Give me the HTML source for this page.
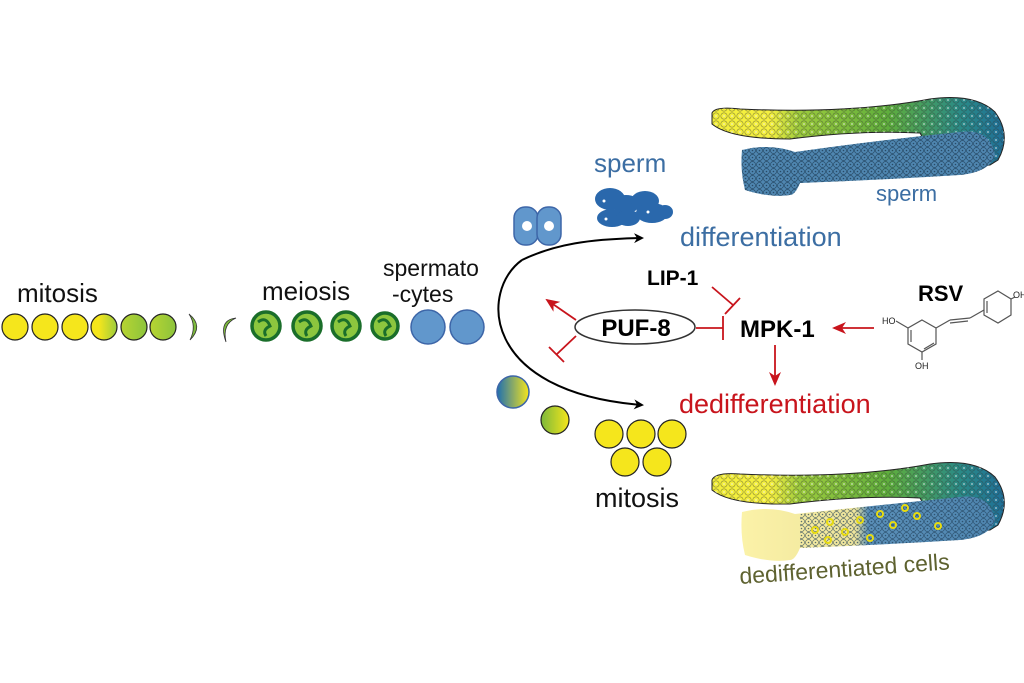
<!DOCTYPE html>
<html><head><meta charset="utf-8"><style>
html,body{margin:0;padding:0;background:#fff}
svg{display:block}
text{font-family:"Liberation Sans","DejaVu Sans",sans-serif}
</style></head><body>
<svg width="1024" height="683" viewBox="0 0 1024 683" xmlns="http://www.w3.org/2000/svg">
<defs>
<linearGradient id="gy1" x1="0" x2="1"><stop offset="0" stop-color="#f5e61c"/><stop offset="1" stop-color="#f5e61c"/></linearGradient>
<linearGradient id="gy2" x1="0" x2="1"><stop offset="0.3" stop-color="#f5e61c"/><stop offset="1" stop-color="#9ccc3c"/></linearGradient>
<linearGradient id="gy3" x1="0" x2="1"><stop offset="0" stop-color="#b8d432"/><stop offset="1" stop-color="#8cc43c"/></linearGradient>
<linearGradient id="gby" x1="0" x2="1"><stop offset="0" stop-color="#1f6fb0"/><stop offset="1" stop-color="#f5e61c"/></linearGradient>
<linearGradient id="ggy" x1="0" x2="1"><stop offset="0" stop-color="#7cb83a"/><stop offset="1" stop-color="#f5e61c"/></linearGradient>
<linearGradient id="worm" x1="0" x2="1"><stop offset="0" stop-color="#f2ee3a"/><stop offset="0.2" stop-color="#f5f040"/><stop offset="0.3" stop-color="#9ccb3c"/><stop offset="0.6" stop-color="#5fae3c"/><stop offset="0.85" stop-color="#2a8a86"/><stop offset="1" stop-color="#1f6f98"/></linearGradient>
<linearGradient id="ded" x1="0" x2="1"><stop offset="0" stop-color="#fbf2a8"/><stop offset="0.45" stop-color="#efe59c"/><stop offset="0.5" stop-color="#5a8fb8"/><stop offset="1" stop-color="#4f86b0"/></linearGradient>
<pattern id="dots" width="7" height="7" patternUnits="userSpaceOnUse"><circle cx="3.5" cy="3.5" r="3" fill="none" stroke="#1e3c55" stroke-width="0.7"/><circle cx="3.5" cy="3.5" r="0.8" fill="#1e3c55"/></pattern>
<pattern id="dots2" width="8" height="8" patternUnits="userSpaceOnUse"><circle cx="4" cy="4" r="3.2" fill="none" stroke="#333" stroke-width="0.6"/><circle cx="4" cy="4" r="1" fill="#eee"/></pattern>
<marker id="ab" markerWidth="10" markerHeight="10" refX="8" refY="5" orient="auto" markerUnits="userSpaceOnUse"><path d="M0,0 L10,5 L0,10 L3,5z" fill="#000"/></marker>
<marker id="ar" markerWidth="14" markerHeight="14" refX="12" refY="7" orient="auto" markerUnits="userSpaceOnUse"><path d="M0,1 L14,7 L0,13 L4,7z" fill="#c8141c"/></marker>
</defs>

<text x="17" y="302" font-size="26" fill="#111">mitosis</text>
<g stroke="#222" stroke-width="1.2">
<circle cx="15" cy="327" r="13" fill="url(#gy1)"/>
<circle cx="45" cy="327" r="13" fill="url(#gy1)"/>
<circle cx="75" cy="327" r="13" fill="url(#gy1)"/>
<circle cx="104" cy="327" r="13" fill="url(#gy2)"/>
<circle cx="134" cy="327" r="13" fill="url(#gy3)"/>
<circle cx="163" cy="327" r="13" fill="url(#gy3)"/>
</g>
<path d="M189,314 Q204,326 190,340 Q197,326 189,314z" fill="#7cba3c" stroke="#333" stroke-width="0.8"/>
<path d="M236,318 Q218,320 226,342 Q222,324 236,318z" fill="#7cba3c" stroke="#333" stroke-width="0.8"/>
<text x="262" y="300" font-size="26" fill="#111">meiosis</text>
<g fill="#8cc63e" stroke="#1a6e2a" stroke-width="3.5">
<circle cx="266" cy="326" r="14"/><circle cx="307" cy="326" r="14"/><circle cx="346" cy="326" r="14"/><circle cx="385" cy="326" r="13"/>
</g>
<g fill="none" stroke="#1a6e2a" stroke-width="3">
<path d="M258,322 Q266,316 270,326 Q262,330 266,336"/><path d="M299,322 Q307,316 311,326 Q303,330 307,336"/><path d="M338,322 Q346,316 350,326 Q342,330 346,336"/><path d="M378,322 Q386,316 390,326 Q382,330 386,336"/>
</g>
<text x="383" y="276" font-size="23" fill="#111">spermato</text>
<text x="392" y="302" font-size="23" fill="#111">-cytes</text>
<circle cx="428" cy="327" r="17" fill="#6197cc" stroke="#3d66a8" stroke-width="1.5"/>
<circle cx="467" cy="327" r="17" fill="#6197cc" stroke="#3d66a8" stroke-width="1.5"/>

<path d="M522,260 C480,290 480,392 642,405" fill="none" stroke="#000" stroke-width="2" marker-end="url(#ab)"/>
<path d="M522,260 C555,244 590,239 642,238" fill="none" stroke="#000" stroke-width="2" marker-end="url(#ab)"/>

<text x="594" y="172" font-size="26" fill="#3c6ea3">sperm</text>
<rect x="514" y="207" width="24" height="38" rx="11" fill="#6197cc" stroke="#3d66a8" stroke-width="1.5"/>
<rect x="537" y="207" width="24" height="38" rx="11" fill="#6197cc" stroke="#3d66a8" stroke-width="1.5"/>
<circle cx="527" cy="226" r="5" fill="#fff"/><circle cx="549" cy="226" r="5" fill="#fff"/>
<g fill="#2a68ac">
<ellipse cx="610" cy="199" rx="15" ry="11"/><ellipse cx="626" cy="204" rx="14" ry="9"/>
<ellipse cx="612" cy="218" rx="15" ry="9"/><ellipse cx="628" cy="218" rx="12" ry="8"/>
<ellipse cx="645" cy="201" rx="14" ry="10"/><ellipse cx="652" cy="213" rx="16" ry="10"/><ellipse cx="665" cy="212" rx="8" ry="7"/>
</g>
<g fill="#fff"><circle cx="604" cy="201" r="1.5"/><circle cx="606" cy="219" r="1.5"/><circle cx="648" cy="212" r="1.5"/></g>
<text x="680" y="246" font-size="27" fill="#3c6ea3">differentiation</text>

<text x="647" y="285" font-size="21" font-weight="bold" fill="#000">LIP-1</text>
<ellipse cx="635" cy="327" rx="60" ry="17" fill="#fff" stroke="#333" stroke-width="1.5"/>
<text x="636" y="336" font-size="24" font-weight="bold" fill="#000" text-anchor="middle">PUF-8</text>
<text x="740" y="337" font-size="24" font-weight="bold" fill="#000">MPK-1</text>
<g stroke="#c8141c" stroke-width="1.8" fill="none">
<line x1="696" y1="328" x2="723" y2="328"/><line x1="723" y1="316" x2="723" y2="340"/>
<line x1="712" y1="287" x2="733" y2="305"/><line x1="725" y1="314" x2="740" y2="298"/>
<line x1="576" y1="320" x2="547" y2="300" marker-end="url(#ar)"/>
<line x1="576" y1="336" x2="557" y2="354"/><line x1="549" y1="347" x2="564" y2="362"/>
<line x1="775" y1="345" x2="775" y2="384" marker-end="url(#ar)"/>
<line x1="874" y1="328" x2="834" y2="328" marker-end="url(#ar)"/>
</g>
<text x="918" y="301" font-size="22" font-weight="bold" fill="#000">RSV</text>
<g stroke="#555" stroke-width="1.2" fill="none">
<polygon points="922,320 936,328 936,344 922,352 908,344 908,328"/>
<line x1="911" y1="330" x2="911" y2="342"/><line x1="924" y1="349" x2="934" y2="343"/>
<line x1="936" y1="328" x2="950" y2="320"/><line x1="950" y1="320" x2="970" y2="318"/><line x1="950" y1="323" x2="968" y2="321"/>
<line x1="970" y1="318" x2="984" y2="310"/>
<polygon points="998,291 1011,299 1011,315 998,323 984,315 984,299"/>
<line x1="987" y1="301" x2="987" y2="313"/>
<line x1="908" y1="328" x2="896" y2="321"/><line x1="922" y1="352" x2="922" y2="360"/><line x1="1011" y1="299" x2="1015" y2="297"/>
</g>
<text x="882" y="324" font-size="9" fill="#222">HO</text>
<text x="1013" y="298" font-size="9" fill="#222">OH</text>
<text x="915" y="369" font-size="9" fill="#222">OH</text>

<text x="679" y="413" font-size="27" fill="#c8141c">dedifferentiation</text>
<circle cx="513" cy="392" r="16" fill="url(#gby)" stroke="#3d66a8" stroke-width="1.5"/>
<circle cx="555" cy="420" r="14" fill="url(#ggy)" stroke="#222" stroke-width="1.2"/>
<g fill="#f5e61c" stroke="#222" stroke-width="1.2">
<circle cx="609" cy="434" r="14"/><circle cx="641" cy="434" r="14"/><circle cx="672" cy="434" r="14"/>
<circle cx="625" cy="462" r="14"/><circle cx="657" cy="462" r="14"/>
</g>
<text x="595" y="507" font-size="27" fill="#111">mitosis</text>

<g>
<path d="M712,113 Q715,106 740,109 Q850,114 930,99 Q975,93 995,112 Q1012,135 998,160 L990,165 Q940,170 920,133 Q860,130 790,139 Q730,139 712,124z" fill="url(#worm)" stroke="#222" stroke-width="1"/>
<path d="M712,113 Q715,106 740,109 Q850,114 930,99 Q975,93 995,112 Q1012,135 998,160 L990,165 Q940,170 920,133 Q860,130 790,139 Q730,139 712,124z" fill="url(#dots2)" opacity="0.55"/>
<path d="M742,150 Q770,143 795,152 Q880,140 960,132 Q990,128 995,155 Q990,172 960,175 Q880,180 800,183 Q795,195 790,195 Q770,198 745,190 Q740,170 742,150z" fill="#4f86b0"/>
<path d="M742,150 Q770,143 795,152 Q880,140 960,132 Q990,128 995,155 Q990,172 960,175 Q880,180 800,183 Q795,195 790,195 Q770,198 745,190 Q740,170 742,150z" fill="url(#dots)" opacity="0.8"/>
<text x="876" y="201" font-size="22" fill="#3c6ea3">sperm</text>
</g>

<g>
<path d="M712,480 Q715,472 740,474 Q850,479 930,464 Q975,458 995,477 Q1012,500 998,525 L990,530 Q940,535 920,498 Q860,495 790,504 Q730,505 712,490z" fill="url(#worm)" stroke="#222" stroke-width="1"/>
<path d="M712,480 Q715,472 740,474 Q850,479 930,464 Q975,458 995,477 Q1012,500 998,525 L990,530 Q940,535 920,498 Q860,495 790,504 Q730,505 712,490z" fill="url(#dots2)" opacity="0.55"/>
<path d="M742,512 Q770,505 795,514 Q880,505 960,497 Q990,493 995,520 Q990,537 960,540 Q880,545 800,548 Q795,560 790,560 Q770,563 745,555 Q740,535 742,512z" fill="url(#ded)"/>
<path d="M800,514 Q880,505 960,497 Q990,493 995,520 Q990,537 960,540 Q880,545 800,548z" fill="url(#dots)" opacity="0.7"/>
<g fill="none" stroke="#e8dc10" stroke-width="2">
<circle cx="815" cy="530" r="3"/><circle cx="830" cy="522" r="3"/><circle cx="845" cy="532" r="3"/><circle cx="860" cy="520" r="3"/><circle cx="880" cy="514" r="3"/><circle cx="893" cy="525" r="3"/><circle cx="905" cy="508" r="3"/><circle cx="917" cy="516" r="3"/><circle cx="938" cy="526" r="3"/><circle cx="828" cy="540" r="3"/><circle cx="870" cy="538" r="3"/>
</g>
<text x="740" y="584" font-size="23" fill="#5e6230" transform="rotate(-4 740 584)">dedifferentiated cells</text>
</g>
</svg>
</body></html>
